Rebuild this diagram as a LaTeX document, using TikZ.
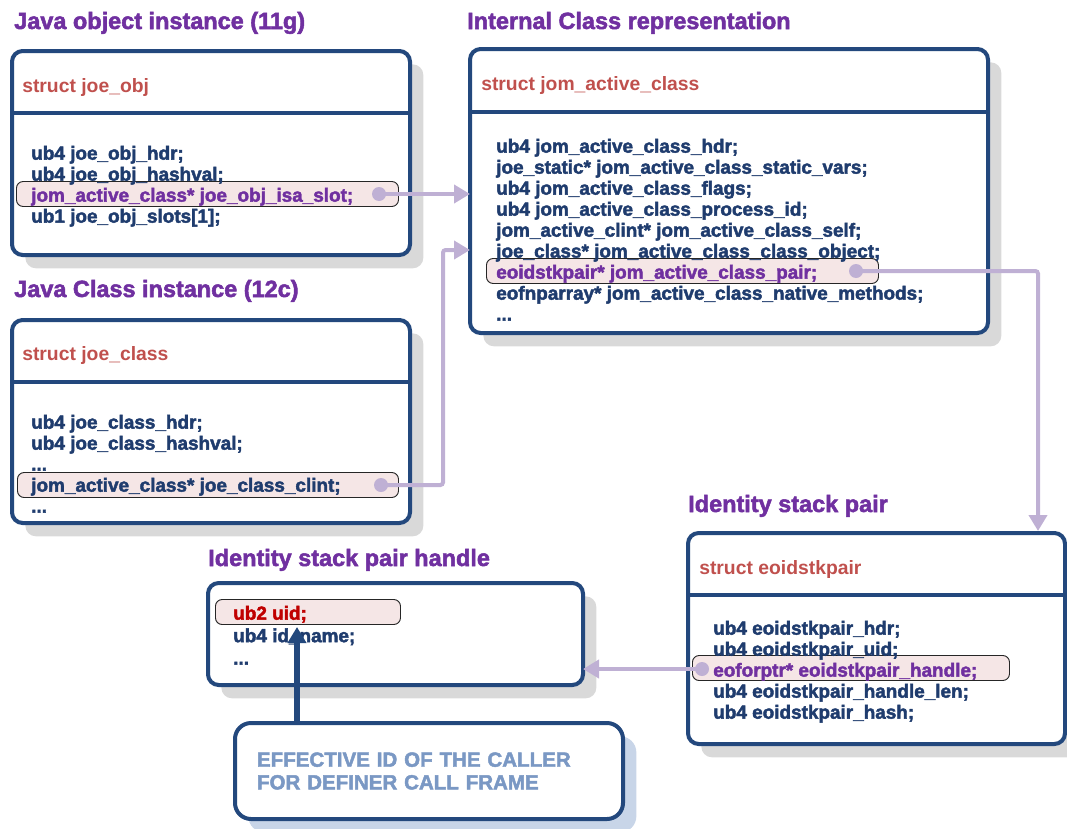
\documentclass[tikz,border=0pt]{standalone}
\usepackage{fontspec}
\setmainfont{Liberation Sans}
\newfontfamily\heavyfont[FakeBold=2.2]{Liberation Sans Bold}
\usetikzlibrary{arrows.meta, shadows}

\definecolor{boxblue}{RGB}{35,72,125}
\definecolor{txtblue}{RGB}{31,60,110}
\definecolor{titlepurple}{RGB}{112,48,160}
\definecolor{structred}{RGB}{192,80,77}
\definecolor{hlpink}{RGB}{245,230,230}
\definecolor{lavender}{RGB}{191,176,212}
\definecolor{shadowgray}{RGB}{217,217,217}
\definecolor{shadowblue}{RGB}{200,213,232}
\definecolor{noteblue}{RGB}{122,152,196}
\definecolor{uidred}{RGB}{192,0,0}

\newcommand{\dotsline}{...}

\tikzstyle{structbox} = [rectangle, rounded corners=8pt, draw=boxblue, line width=3pt, fill=white, anchor=north west, inner sep=0pt, outer sep=0pt, drop shadow={shadow xshift=10pt, shadow yshift=-10pt, fill=shadowgray, opacity=1}]
\tikzstyle{divider} = [draw=boxblue, line width=3pt]
\tikzstyle{title} = [anchor=west, inner sep=0pt, yshift=-2.25pt, text height=12.5pt, text depth=3.5pt, text=titlepurple, font=\fontsize{17.6}{20}\heavyfont]
\tikzstyle{structname} = [anchor=west, inner sep=0pt, yshift=-2.25pt, text height=10pt, text depth=3pt, text=structred, font=\fontsize{14.5}{16}\selectfont\bfseries]
\tikzstyle{field} = [anchor=west, inner sep=0pt, yshift=-2.25pt, text height=10pt, text depth=3pt, text=txtblue, font=\fontsize{14.2}{16}\heavyfont]
\tikzstyle{slot} = [rectangle, rounded corners=5pt, draw=black!85, line width=0.7pt, fill=hlpink, anchor=west, minimum height=18.75pt, inner sep=0pt]
\tikzstyle{dot} = [circle, fill=lavender, inner sep=0pt, minimum size=10.5pt]
\tikzstyle{link} = [draw=lavender, line width=3pt, rounded corners=2pt, -{Triangle[length=12pt,width=13.5pt]}]
\tikzstyle{idarrow} = [draw=boxblue, line width=3.8pt, -{Triangle[length=12pt,width=13.5pt]}]
\tikzstyle{notebox} = [rectangle, rounded corners=12pt, draw=boxblue, line width=3pt, fill=white, anchor=north west, outer sep=0pt, inner xsep=16.5pt, text width=258pt, minimum height=72pt, align=left, text=noteblue, font=\fontsize{15.4}{17}\heavyfont, drop shadow={shadow xshift=10pt, shadow yshift=-10pt, fill=shadowblue, opacity=1}]

\begin{document}
\begin{tikzpicture}[x=0.75pt, y=-0.75pt]
\useasboundingbox (0,0) rectangle (1067,828);

% struct boxes
\node (objbox) [structbox, minimum width=398*0.75pt, minimum height=204*0.75pt] at (12,51) {};
\node (actbox) [structbox, minimum width=518*0.75pt, minimum height=284*0.75pt] at (470,49) {};
\node (clsbox) [structbox, minimum width=398*0.75pt, minimum height=203*0.75pt] at (12,320) {};
\node (pairbox) [structbox, minimum width=377*0.75pt, minimum height=211*0.75pt] at (688,533) {};
\node (hdlbox) [structbox, minimum width=375*0.75pt, minimum height=102*0.75pt] at (208,583) {};
\draw [divider] (12,113) -- (410,113);
\draw [divider] (470,112) -- (988,112);
\draw [divider] (12,382) -- (410,382);
\draw [divider] (688,595) -- (1065,595);

% titles
\node (objtitle) [title] at (14,20) {Java object instance (11g)};
\node (acttitle) [title] at (467,20) {Internal Class representation};
\node (clstitle) [title] at (14,288) {Java Class instance (12c)};
\node (pairtitle) [title] at (688,503) {Identity stack pair};
\node (hdltitle) [title] at (208,557) {Identity stack pair handle};

\node (objname) [structname] at (22,85) {struct joe\_obj};
\node (actname) [structname] at (481,83) {struct jom\_active\_class};
\node (clsname) [structname] at (22,353) {struct joe\_class};
\node (pairname) [structname] at (699,567) {struct eoidstkpair};

% highlighted slots
\node (objslot) [slot, minimum width=382*0.75pt] at (16,194) {};
\node (actslot) [slot, minimum width=392*0.75pt] at (486,271) {};
\node (clsslot) [slot, minimum width=381*0.75pt] at (17,485) {};
\node (pairslot) [slot, minimum width=317*0.75pt] at (692,668) {};
\node (hdlslot) [slot, minimum width=185*0.75pt] at (215,612) {};

% fields
\foreach \txt [count=\k] in {ub4 joe\_obj\_hdr;, ub4 joe\_obj\_hashval;, {\color{titlepurple}jom\_active\_class* joe\_obj\_isa\_slot;}, ub1 joe\_obj\_slots[1];}
  \node (objf\k) [field] at (31,152+21*\k-21) {\txt};
\foreach \txt [count=\k] in {ub4 jom\_active\_class\_hdr;, joe\_static* jom\_active\_class\_static\_vars;, ub4 jom\_active\_class\_flags;, ub4 jom\_active\_class\_process\_id;, jom\_active\_clint* jom\_active\_class\_self;, joe\_class* jom\_active\_class\_class\_object;, {\color{titlepurple}eoidstkpair* jom\_active\_class\_pair;}, eofnparray* jom\_active\_class\_native\_methods;, \dotsline}
  \node (actf\k) [field] at (496,145+21*\k-21) {\txt};
\foreach \txt [count=\k] in {ub4 joe\_class\_hdr;, ub4 joe\_class\_hashval;, \dotsline, jom\_active\_class* joe\_class\_clint;, \dotsline}
  \node (clsf\k) [field] at (31,421+21*\k-21) {\txt};
\foreach \txt [count=\k] in {ub4 eoidstkpair\_hdr;, ub4 eoidstkpair\_uid;, {\color{titlepurple}eoforptr* eoidstkpair\_handle;}, ub4 eoidstkpair\_handle\_len;, ub4 eoidstkpair\_hash;}
  \node (pairf\k) [field] at (713,627+21*\k-21) {\txt};
\foreach \txt [count=\k] in {{\color{uidred}ub2 uid;}, ub4 id\_name;, \dotsline}
  \node (hdlf\k) [field] at (233,612+22.5*\k-22.5) {\txt};

% note
\node (note) [notebox, minimum width=388*0.75pt] at (235,723) {EFFECTIVE ID OF THE CALLER\\FOR DEFINER CALL FRAME};

% pointers
\node (objdot) [dot] at (379,194) {};
\node (actdot) [dot] at (856,271) {};
\node (clsdot) [dot] at (381,485) {};
\node (pairdot) [dot] at (702,669) {};
\coordinate (clsbend) at (443,250);
\coordinate (pairin) at (1038,531);
\coordinate (uidtip) at (297,627);
\draw [link] (objdot.center) -- (objdot.center -| actbox.west);
\draw [link] (clsdot.center) -| (clsbend) -- (clsbend -| actbox.west);
\draw [link] (actdot.center) -| (pairin);
\draw [link] (pairdot.center) -- (pairdot.center -| hdlbox.east);
\draw [idarrow] (uidtip |- note.north) -- (uidtip);
\end{tikzpicture}
\end{document}
